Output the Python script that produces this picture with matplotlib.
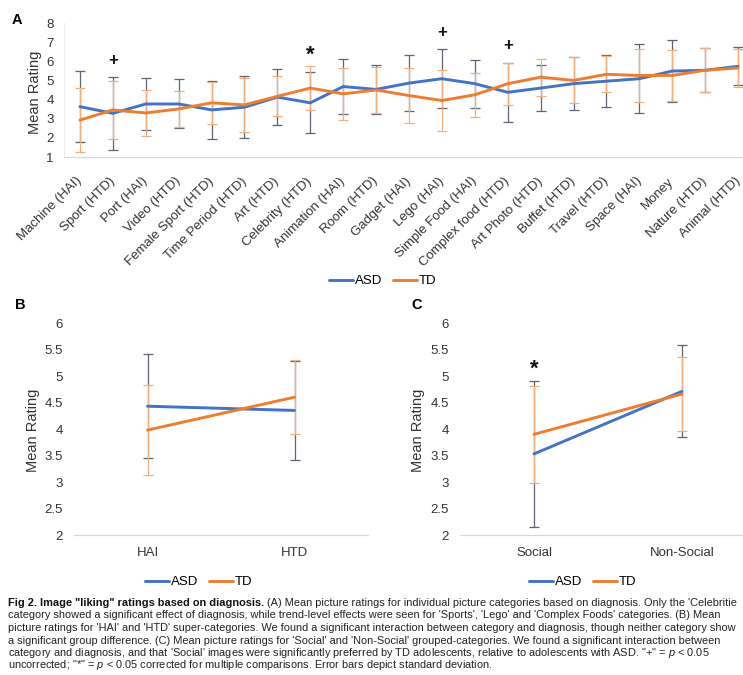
import matplotlib
matplotlib.use('Agg')
import matplotlib.pyplot as plt
from matplotlib import font_manager
from matplotlib.text import Annotation
import numpy as np

plt.rcParams['font.family'] = ['Liberation Sans', 'DejaVu Sans']
plt.rcParams['mathtext.fontset'] = 'custom'

# ---------------- data ----------------
categories = ["Machine (HAI)", "Sport (HTD)", "Port (HAI)", "Video (HTD)",
              "Female Sport (HTD)", "Time Period (HTD)", "Art (HTD)",
              "Celebrity (HTD)", "Animation (HAI)", "Room (HTD)", "Gadget (HAI)",
              "Lego (HAI)", "Simple Food (HAI)", "Complex food (HTD)",
              "Art Photo (HTD)", "Buffet (HTD)", "Travel (HTD)", "Space (HAI)",
              "Money", "Nature (HTD)", "Animal (HTD)"]
asd_mean = [3.63, 3.28, 3.77, 3.77, 3.46, 3.60, 4.13, 3.83, 4.68, 4.53, 4.86,
            5.09, 4.83, 4.38, 4.60, 4.83, 4.96, 5.09, 5.49, 5.53, 5.74]
asd_sd = [1.86, 1.90, 1.37, 1.28, 1.50, 1.63, 1.45, 1.60, 1.45, 1.26, 1.45,
          1.55, 1.25, 1.55, 1.20, 1.40, 1.35, 1.80, 1.60, 1.15, 1.00]
td_mean = [2.93, 3.46, 3.30, 3.51, 3.83, 3.72, 4.17, 4.60, 4.30, 4.50, 4.21,
           3.95, 4.25, 4.83, 5.17, 5.00, 5.32, 5.26, 5.26, 5.53, 5.65]
td_sd = [1.65, 1.50, 1.20, 0.96, 1.10, 1.40, 1.05, 1.15, 1.35, 1.20, 1.45,
         1.60, 1.15, 1.10, 0.97, 1.20, 0.95, 1.40, 1.32, 1.15, 1.00]
sig_index = [1, 7, 11, 13]
sig_marks = ["+", "*", "+", "+"]

super_cats = ["HAI", "HTD"]
super_asd = [4.43, 4.35]
super_asd_sd = [0.98, 0.93]
super_td = [3.98, 4.60]
super_td_sd = [0.85, 0.70]

group_cats = ["Social", "Non-Social"]
group_asd = [3.53, 4.71]
group_asd_sd = [1.38, 0.87]
group_td = [3.90, 4.66]
group_td_sd = [0.92, 0.69]
group_sig_index = [0]
group_sig_marks = ["*"]

# ---------------- style ----------------
ASD_C = '#4472C4'
TD_C = '#ED7D31'
ASD_ERR = '#5d6475'
TD_ERR = '#efb07e'
AX_C = '#d9d9d9'
W, H = 743, 675

fig = plt.figure(figsize=(W / 100, H / 100), dpi=100)


def fx(px):
    return px / W


def fy(py):
    return 1 - py / H


def draw_panel(ax, xcats, a_m, a_s, t_m, t_s, sig_i, sig_m, ylim, yticks,
               left_spine=False, ytick_fmt=None):
    x = np.arange(len(xcats))
    ax.errorbar(x, a_m, yerr=a_s, fmt='none', ecolor=ASD_ERR, elinewidth=0.9,
                capsize=3.5, capthick=0.9, zorder=2)
    ax.errorbar(x, t_m, yerr=t_s, fmt='none', ecolor=TD_ERR, elinewidth=0.9,
                capsize=3.5, capthick=0.9, zorder=2.1)
    l1, = ax.plot(x, a_m, color=ASD_C, lw=2.1, zorder=3, solid_capstyle='round')
    l2, = ax.plot(x, t_m, color=TD_C, lw=2.1, zorder=3.1, solid_capstyle='round')
    for i, m in zip(sig_i, sig_m):
        top = max(a_m[i] + a_s[i], t_m[i] + t_s[i])
        if m == '*':
            ax.annotate(m, xy=(x[i], top), xytext=(0, 8), textcoords='offset points',
                        ha='center', va='center', fontsize=16, fontweight='bold',
                        color='#111111')
        else:
            ax.annotate(m, xy=(x[i], top), xytext=(0, 12), textcoords='offset points',
                        ha='center', va='center', fontsize=12, fontweight='bold',
                        color='#111111')
    ax.set_xlim(-0.5, len(xcats) - 0.5)
    ax.set_ylim(*ylim)
    ax.set_yticks(yticks)
    if ytick_fmt is not None:
        ax.set_yticklabels([ytick_fmt(v) for v in yticks])
    ax.set_xticks(x)
    for s in ['top', 'right']:
        ax.spines[s].set_visible(False)
    ax.spines['left'].set_visible(left_spine)
    ax.spines['left'].set_color('#ececec')
    ax.spines['bottom'].set_color(AX_C)
    ax.spines['bottom'].set_linewidth(0.9)
    ax.tick_params(length=0, labelsize=9.5, colors='#333333')
    ax.patch.set_alpha(0)
    return l1, l2


leg_kw = dict(loc='center', ncol=2, frameon=False, fontsize=9.5,
              handlelength=1.8, handletextpad=0.15, columnspacing=0.8,
              borderpad=0)

# ---------------- Panel A ----------------
axA = fig.add_axes([fx(63.5), fy(157), fx(691), 134 / H])
hA = draw_panel(axA, categories, asd_mean, asd_sd, td_mean, td_sd, sig_index,
                sig_marks, (1, 8), list(range(1, 9)), left_spine=True)
axA.set_xticklabels(categories)
plt.setp(axA.get_xticklabels(), rotation=45, ha='right', va='center',
         rotation_mode='anchor', fontsize=9.5)
axA.tick_params(axis='x', pad=16)
axA.tick_params(axis='y', pad=7)
fig.text(fx(35), fy(92), 'Mean Rating', rotation=90, ha='center', va='center',
         fontsize=10.5, color='#333333')
fig.text(fx(17), fy(20), 'A', fontweight='bold', fontsize=10.5, ha='center',
         va='center')
fig.legend(hA, ['ASD', 'TD'], bbox_to_anchor=(fx(383), fy(281)), **leg_kw)

# ---------------- Panel B ----------------
fmt = lambda v: ('%g' % v)
axB = fig.add_axes([fx(74), fy(535), fx(294), 212 / H])
hB = draw_panel(axB, super_cats, super_asd, super_asd_sd, super_td, super_td_sd,
                [], [], (2, 6), [2, 2.5, 3, 3.5, 4, 4.5, 5, 5.5, 6], ytick_fmt=fmt)
axB.set_xticklabels(super_cats)
axB.tick_params(axis='x', pad=9)
axB.tick_params(axis='y', pad=8)
fig.text(fx(33), fy(430), 'Mean Rating', rotation=90, ha='center', va='center',
         fontsize=10.5, color='#333333')
fig.text(fx(20), fy(305), 'B', fontweight='bold', fontsize=10.5, ha='center',
         va='center')
fig.legend(hB, ['ASD', 'TD'], bbox_to_anchor=(fx(199), fy(582)), **leg_kw)

# ---------------- Panel C ----------------
axC = fig.add_axes([fx(460), fy(535), fx(296), 212 / H])
hC = draw_panel(axC, group_cats, group_asd, group_asd_sd, group_td, group_td_sd,
                group_sig_index, group_sig_marks, (2, 6),
                [2, 2.5, 3, 3.5, 4, 4.5, 5, 5.5, 6], ytick_fmt=fmt)
axC.set_xticklabels(group_cats)
axC.tick_params(axis='x', pad=9)
axC.tick_params(axis='y', pad=8)
fig.text(fx(418), fy(430), 'Mean Rating', rotation=90, ha='center', va='center',
         fontsize=10.5, color='#333333')
fig.text(fx(417), fy(305), 'C', fontweight='bold', fontsize=10.5, ha='center',
         va='center')
fig.legend(hC, ['ASD', 'TD'], bbox_to_anchor=(fx(583), fy(582)), **leg_kw)

# ---------------- Caption ----------------
names = {f.name for f in font_manager.fontManager.ttflist}
if 'Liberation Sans Narrow' in names:
    cap_family = ['Liberation Sans Narrow', 'DejaVu Sans']
    cap_size = 9.5
    plt.rcParams['mathtext.it'] = 'Liberation Sans Narrow:italic'
    plt.rcParams['mathtext.rm'] = 'Liberation Sans Narrow'
else:
    cap_family = ['Liberation Sans', 'DejaVu Sans']
    cap_size = 7.9
    plt.rcParams['mathtext.it'] = 'Liberation Sans:italic'
    plt.rcParams['mathtext.rm'] = 'Liberation Sans'

cap_lines = [
    " (A) Mean picture ratings for individual picture categories based on diagnosis. Only the 'Celebritie",
    "category showed a significant effect of diagnosis, while trend-level effects were seen for 'Sports', 'Lego' and 'Complex Foods' categories. (B) Mean",
    "picture ratings for 'HAI' and 'HTD' super-categories. We found a significant interaction between category and diagnosis, though neither category show",
    "a significant group difference. (C) Mean picture ratings for 'Social' and 'Non-Social' grouped-categories. We found a significant interaction between",
    "category and diagnosis, and that 'Social' images were significantly preferred by TD adolescents, relative to adolescents with ASD. \"+\" = $\\it{p}$ < 0.05",
    "uncorrected; \"*\" = $\\it{p}$ < 0.05 corrected for multiple comparisons. Error bars depict standard deviation.",
]
cap_y = [603, 615.5, 628, 640.5, 653, 665.5]
t0 = fig.text(fx(8), fy(cap_y[0]), 'Fig 2. Image "liking" ratings based on diagnosis.',
              family=cap_family, fontsize=cap_size, fontweight='bold',
              ha='left', va='center', color='#111111')
ann = Annotation(cap_lines[0], xy=(1, 0.5), xycoords=t0, xytext=(0, 0),
                 textcoords='offset points', ha='left', va='center',
                 family=cap_family, fontsize=cap_size, color='#222222')
fig.add_artist(ann)
for line, yy in zip(cap_lines[1:], cap_y[1:]):
    fig.text(fx(8), fy(yy), line, family=cap_family, fontsize=cap_size,
             ha='left', va='center', color='#222222')

fig.savefig('out.png', dpi=100)
